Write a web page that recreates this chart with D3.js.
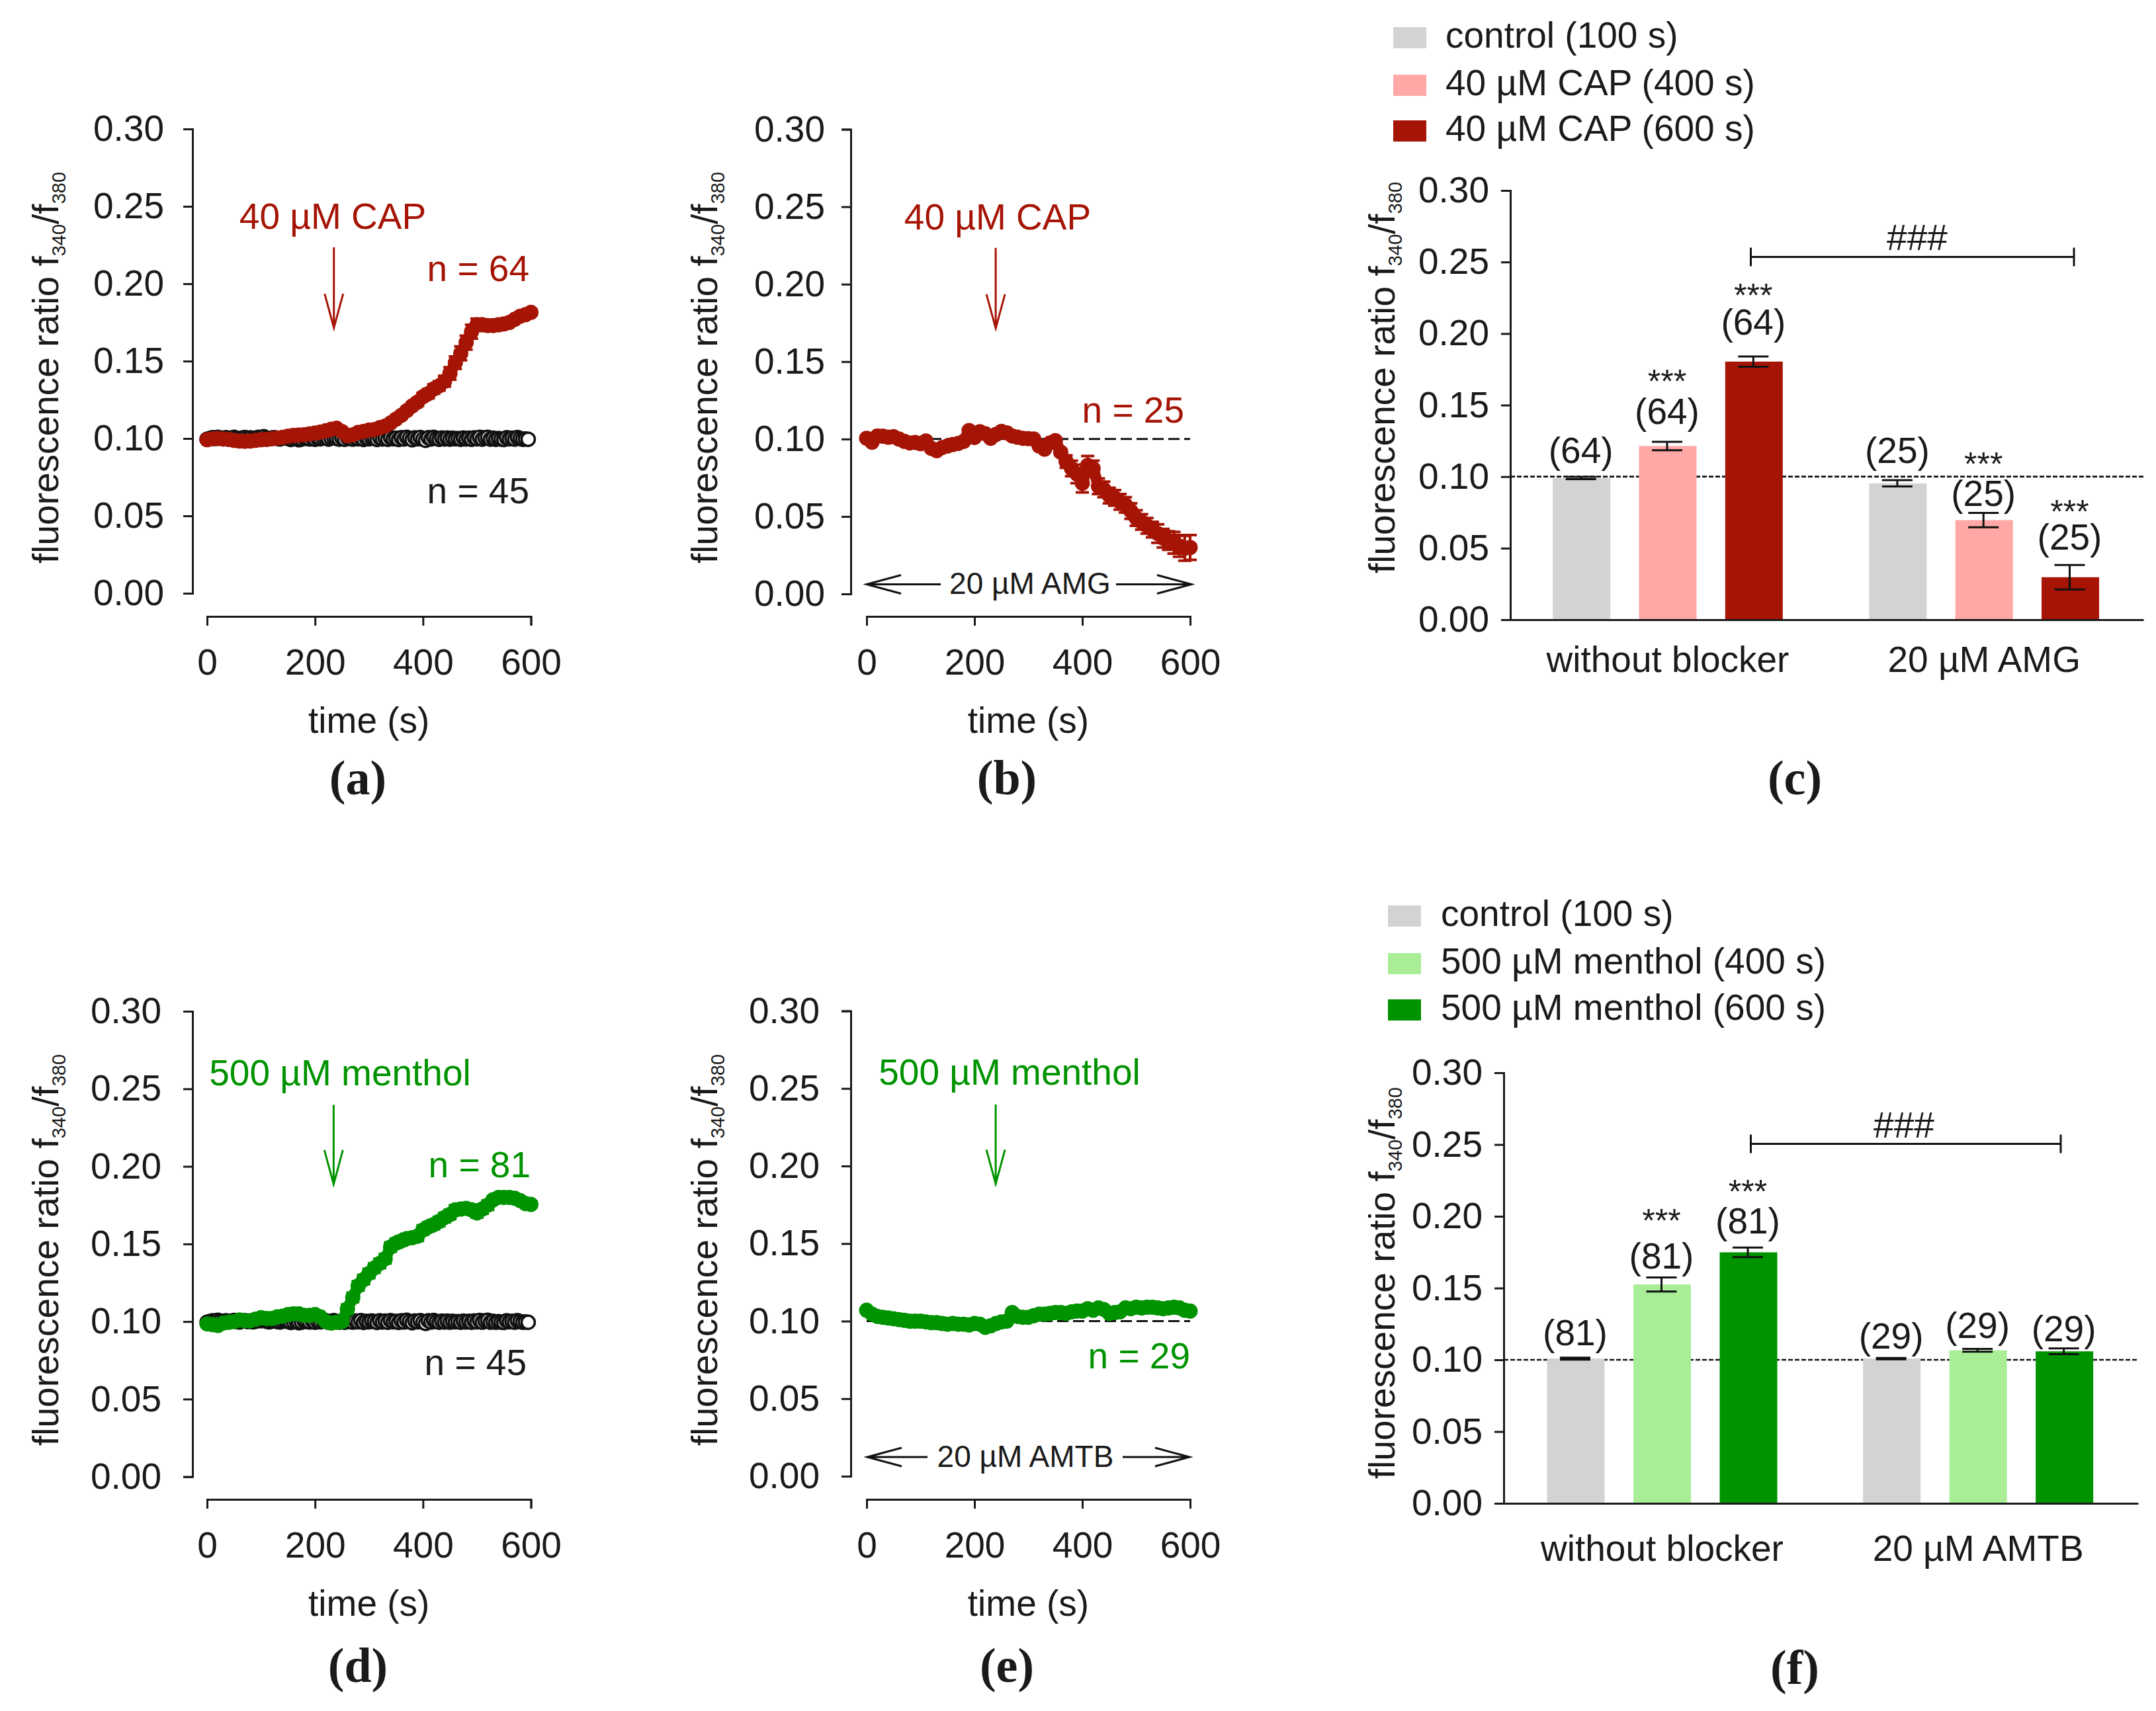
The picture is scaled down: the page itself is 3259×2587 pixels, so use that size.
<!DOCTYPE html>
<html><head><meta charset="utf-8">
<script src="https://cdn.jsdelivr.net/npm/d3@7/dist/d3.min.js"></script>
<style>html,body{margin:0;padding:0;background:#fff}svg{display:block}text{font-family:"Liberation Sans",Arial,sans-serif;fill:#1a1a1a}</style>
</head><body><svg id="c" width="3259" height="2587"></svg>
<script>
// ---------- data ----------
const yTicks = [0, 0.05, 0.10, 0.15, 0.20, 0.25, 0.30];
const xTicks = [0, 200, 400, 600];
const controlValues = [
.0995,.1,.1005,.1,.1008,.1003,.0998,.1005,.1,.1002,
.1007,.1,.0997,.1003,.1006,.1,.1004,.0998,.1002,.1007,
.1005,.1012,.1002,.0998,.1003,.1005,.1,.0997,.1002,.1006,
.1,.0994,.0998,.1003,.0992,.0996,.1004,.1,.0997,.1005,
.0995,.1002,.0998,.1003,.1005,.0996,.1002,.1006,.1,.0996,
.1003,.0995,.1006,.1,.0996,.1004,.0998,.1006,.0994,.1002,
.0998,.1004,.1,.0994,.1005,.0997,.1003,.0995,.1006,.0998,
.1002,.0994,.1005,.0997,.1008,.1,.0992,.1004,.0998,.1006,
.0995,.0988,.1005,.0997,.1007,.1,.0995,.1003,.0997,.1003,
.0996,.1002,.0998,.1,.0995,.1003,.0997,.1002,.0995,.1004,
.0998,.1007,.0996,.1005,.1008,.0996,.1002,.0995,.1,.0996,
.0994,.1005,.0998,.1002,.0996,.1006,.1,.0995,.0997,.0995];
const capValuesA = [.0992,.0998,.1,.0997,.0994,.0988,.0984,.0982,.0984,.0988,
.0992,.0994,.0998,.1003,.1008,.1015,.102,.1022,.1025,.103,
.1035,.1042,.105,.106,.1066,.1045,.1018,.1024,.104,.1046,
.1054,.1058,.107,.108,.11,.1125,.115,.118,.121,.1235,
.127,.129,.132,.134,.137,.142,.149,.155,.162,.169,
.1735,.1735,.173,.173,.1735,.174,.175,.177,.179,.18,.1815];
const capErrorsA = [.001,.001,.001,.001,.001,.001,.001,.001,.001,.001,
.001,.001,.001,.001,.001,.001,.001,.001,.001,.001,
.001,.001,.001,.001,.001,.001,.001,.001,.001,.001,
.001,.001,.001,.001,.0015,.0015,.002,.002,.002,.0025,
.0025,.003,.003,.003,.0035,.004,.004,.0045,.0045,.0045,
.004,.003,.002,.002,.002,.002,.002,.002,.002,.002,.002];
const capValuesB = [.1005,.098,.102,.1018,.1012,.1015,.1,.0985,.0975,.0978,
.097,.0988,.094,.0925,.0945,.0955,.0965,.0972,.0985,.1055,
.101,.1047,.1035,.1005,.103,.105,.104,.102,.1012,.1005,
.1003,.1,.0955,.0935,.0975,.099,.0915,.0855,.081,.0775,
.0715,.083,.081,.0695,.0675,.0635,.062,.0595,.0575,.0535,
.049,.0465,.044,.0415,.039,.036,.0345,.033,.031,.0295,.03];
const capErrorsB = [.001,.001,.001,.001,.001,.001,.001,.001,.001,.001,
.001,.001,.001,.001,.001,.001,.001,.001,.001,.001,
.001,.001,.001,.001,.001,.001,.001,.001,.001,.001,
.001,.001,.001,.001,.001,.001,.002,.004,.005,.006,
.006,.006,.005,.005,.005,.005,.005,.005,.005,.005,
.005,.005,.005,.005,.006,.006,.006,.007,.007,.008,.008];
const mentholValuesD = [.0985,.098,.0975,.099,.0995,.1,.101,.1005,.1005,.1015,
.1025,.102,.102,.103,.1035,.1045,.105,.105,.104,.104,
.1045,.103,.1,.099,.0995,.1,.108,.1155,.123,.127,
.131,.1345,.1375,.1405,.148,.1505,.152,.1535,.154,.155,
.159,.161,.1625,.1645,.167,.169,.172,.1725,.173,.172,
.17,.1725,.175,.1785,.18,.18,.18,.1795,.178,.176,.1755];
const mentholErrorsD = [.001,.001,.001,.001,.001,.001,.001,.001,.001,.001,
.001,.001,.001,.001,.001,.001,.001,.001,.001,.001,
.001,.001,.001,.001,.001,.002,.003,.003,.003,.003,
.003,.003,.003,.003,.003,.003,.003,.003,.003,.003,
.003,.003,.003,.003,.003,.003,.003,.003,.003,.003,
.003,.003,.003,.002,.002,.002,.002,.002,.002,.002,.002];
const mentholValuesE = [.107,.1045,.103,.1025,.102,.1015,.101,.1005,.1,.1,
.1,.0995,.099,.099,.0985,.098,.0985,.098,.098,.0975,
.0985,.098,.096,.097,.0985,.0995,.1,.1055,.103,.1025,
.1025,.1035,.1045,.1045,.105,.1055,.1055,.105,.106,.1065,
.1065,.108,.107,.1085,.1075,.105,.1055,.106,.1085,.108,
.109,.1085,.109,.109,.1085,.108,.1085,.109,.1085,.107,.1065];

const barGroupsC = ["without blocker", "20 µM AMG"];
const barGroupsF = ["without blocker", "20 µM AMTB"];
const legendC = ["control (100 s)", "40 µM CAP (400 s)", "40 µM CAP (600 s)"];
const legendF = ["control (100 s)", "500 µM menthol (400 s)", "500 µM menthol (600 s)"];
const barValuesC = [.099, .1214, .1804, .0953, .0696, .0297];
const barErrorsC = [.0008, .003, .0036, .0022, .005, .0085];
const barCountsC = ["(64)", "(64)", "(64)", "(25)", "(25)", "(25)"];
const countHeightsC = [.1094, .137, .199, .1094, .0797, .0489];
const starHeightsC = [null, .1585, .2185, null, .101, .0674];
const barValuesF = [.1008, .1525, .1749, .1008, .1066, .1059];
const barErrorsF = [.0007, .0049, .0033, .0005, .001, .002];
const barCountsF = ["(81)", "(81)", "(81)", "(29)", "(29)", "(29)"];
const countHeightsF = [.1102, .1637, .1879, .108, .1152, .1127];
const starHeightsF = [null, .1888, .2092, null, null, null];
const paletteCap = ["#D3D3D3", "#FFA8A5", "#A51405"];
const paletteMenthol = ["#D3D3D3", "#A9ED97", "#009300"];
const RED = "#A51405", GREEN = "#009300";

// ---------- helpers ----------
const svg = d3.select("#c");
const FS = 55;
const label = (s, x, y, o = {}) => svg.append("text").attr("x", x).attr("y", y).text(s)
  .attr("font-size", o.size || FS).attr("text-anchor", o.anchor || "middle")
  .style("fill", o.color || "#1a1a1a").style("font-family", o.family || null).style("font-weight", o.weight || null);

function yLabel(x, y) {
  const t = svg.append("text").attr("transform", `translate(${x},${y}) rotate(-90)`).attr("font-size", FS);
  t.append("tspan").text("fluorescence ratio f");
  t.append("tspan").text("340").attr("font-size", 29).attr("dy", 11);
  t.append("tspan").text("/f").attr("dy", -11);
  t.append("tspan").text("380").attr("font-size", 29).attr("dy", 11);
}
function styleAxis(g, size) {
  g.selectAll("path,line").attr("stroke", "#1a1a1a").attr("stroke-width", 3).attr("fill", "none");
  g.selectAll("text").attr("font-size", size || FS).style("font-family", '"Liberation Sans"').style("fill", "#1a1a1a");
}
function panelLetter(s, x, y) {
  label(s, x, y, { size: 74, family: '"Liberation Serif"', weight: "bold" });
}

function timePanel(p) {
  const x = d3.scaleLinear().domain([0, 600]).range([p.x0, p.x600]);
  const y = d3.scaleLinear().domain([0, 0.3]).range([p.y0, p.y30]);
  const gy = svg.append("g").attr("transform", `translate(${p.yAxisX},0)`)
    .call(d3.axisLeft(y).tickValues(yTicks).tickFormat(d3.format(".2f")).tickSize(14).tickPadding(p.yPad));
  styleAxis(gy);
  const gx = svg.append("g").attr("transform", `translate(0,${p.xAxisY})`)
    .call(d3.axisBottom(x).tickValues(xTicks).tickFormat(d3.format("d")).tickSize(14).tickPadding(35));
  styleAxis(gx);
  gx.selectAll("text").attr("dy", "0.71em");
  yLabel(p.yLabelX, p.yLabelY);
  label("time (s)", x(300), p.xAxisY + 176);
  panelLetter(p.letter, p.letterX, p.letterY);

  if (p.dashed) svg.append("line").attr("x1", x(0)).attr("x2", x(600)).attr("y1", y(.1)).attr("y2", y(.1))
    .attr("stroke", "#111").attr("stroke-width", 3).attr("stroke-dasharray", "17,7");

  if (p.control) svg.append("g").selectAll("circle").data(controlValues).join("circle")
    .attr("cx", (d, i) => x(i * 5)).attr("cy", d => y(d)).attr("r", 10)
    .attr("fill", "#fff").attr("stroke", "#111").attr("stroke-width", 3.5);

  const pts = p.values.map((v, i) => ({ t: i * 10, v, e: p.errors ? p.errors[i] : 0 }));
  const eb = svg.append("g").attr("stroke", p.color).attr("stroke-width", 4);
  eb.selectAll("path").data(pts).join("path").attr("fill", "none").attr("d", d =>
    `M${x(d.t) - 10},${y(d.v + d.e)}H${x(d.t) + 10}M${x(d.t)},${y(d.v + d.e)}V${y(d.v - d.e)}M${x(d.t) - 10},${y(d.v - d.e)}H${x(d.t) + 10}`);
  svg.append("path").datum(pts).attr("fill", "none").attr("stroke", p.color).attr("stroke-width", 17).attr("stroke-linejoin", "round")
    .attr("d", d3.line().x(d => x(d.t)).y(d => y(d.v)));
  svg.append("g").selectAll("circle").data(pts).join("circle")
    .attr("cx", d => x(d.t)).attr("cy", d => y(d.v)).attr("r", 11.5).attr("fill", p.color);

  // stimulus arrow
  const ax = x(p.arrowT);
  svg.append("path").attr("fill", "none").attr("stroke", p.color).attr("stroke-width", 3)
    .attr("d", `M${ax},${y(p.arrowTop)}V${y(p.arrowTip)}M${ax - 14},${y(p.arrowTip + .022)}L${ax},${y(p.arrowTip)}L${ax + 14},${y(p.arrowTip + .022)}`);
  label(p.stim, p.stimX, y(p.stimH), { color: p.color });
  p.notes.forEach(n => label(n.s, n.x, y(n.h), { anchor: "end", color: n.color }));

  // blocker span
  if (p.blocker) {
    const b = p.blocker, by = y(b.h);
    svg.append("path").attr("fill", "none").attr("stroke", "#111").attr("stroke-width", 3)
      .attr("d", `M${b.x1},${by}H${b.l2}M${b.x1 + 52},${by - 14}L${b.x1},${by}L${b.x1 + 52},${by + 14}` +
        `M${b.r1},${by}H${b.x2}M${b.x2 - 52},${by - 14}L${b.x2},${by}L${b.x2 - 52},${by + 14}`);
    label(b.s, b.tx, b.ty, { size: b.size || 47 });
  }
}

function barPanel(p) {
  const slots = [0, 1, 2, p.gap, p.gap + 1, p.gap + 2];
  const xs = d3.scaleLinear().domain([0, 1]).range([p.slot0, p.slot0 + p.step]);
  const y = d3.scaleLinear().domain([0, 0.3]).range([p.y0, p.y30]);
  const bw = 87;
  // legend
  p.legend.forEach((s, i) => {
    svg.append("rect").attr("x", p.legX).attr("y", p.legY[i] - 31).attr("width", 50).attr("height", 32).attr("fill", p.palette[i]);
    label(s, p.legTextX, p.legY[i], { anchor: "start" });
  });
  // dashed baseline (behind bars)
  svg.append("line").attr("x1", p.yAxisX).attr("x2", p.xEnd).attr("y1", y(.1)).attr("y2", y(.1))
    .attr("stroke", "#111").attr("stroke-width", 2.6).attr("stroke-dasharray", "7,3");
  const data = p.values.map((v, i) => ({ v, e: p.errors[i], c: p.counts[i], h: p.countH[i], s: p.starH[i], pos: slots[i], col: p.palette[i % 3] }));
  svg.append("g").selectAll("rect").data(data).join("rect")
    .attr("x", d => xs(d.pos) - bw / 2).attr("width", bw).attr("y", d => y(d.v)).attr("height", d => y(0) - y(d.v)).attr("fill", d => d.col);
  svg.append("g").selectAll("path").data(data).join("path").attr("fill", "none").attr("stroke", "#111").attr("stroke-width", 3)
    .attr("d", d => {
      const c = xs(d.pos) - 1;
      return `M${c - 23},${y(d.v + d.e)}H${c + 23}M${c},${y(d.v + d.e)}V${y(d.v - d.e)}M${c - 23},${y(d.v - d.e)}H${c + 23}`;
    });
  data.forEach(d => {
    label(d.c, xs(d.pos) - 1, y(d.h));
    if (d.s != null) label("***", xs(d.pos) - 1, y(d.s), { size: 50 });
  });
  const gy = svg.append("g").attr("transform", `translate(${p.yAxisX},0)`)
    .call(d3.axisLeft(y).tickValues(yTicks).tickFormat(d3.format(".2f")).tickSize(14).tickPadding(18));
  styleAxis(gy);
  const xAxis = d3.scaleLinear().domain([0, 1]).range([p.yAxisX, p.xEnd]);
  const gx = svg.append("g").attr("transform", `translate(0,${p.y0})`).call(d3.axisBottom(xAxis).tickValues([]).tickSizeOuter(0));
  styleAxis(gx);
  yLabel(p.yLabelX, p.yLabelY);
  p.groups.forEach((g, i) => label(g, xs(i === 0 ? 1 : p.gap + 1), p.groupY));
  // bracket
  const by = y(p.brH);
  svg.append("path").attr("fill", "none").attr("stroke", "#111").attr("stroke-width", 3)
    .attr("d", `M${p.br1},${by - 14}V${by + 14}M${p.br1},${by}H${p.br2}M${p.br2},${by - 14}V${by + 14}`);
  label("###", p.brText, y(p.brTextH), { size: 55 });
  panelLetter(p.letter, p.letterX, p.letterY);
}

// ---------- panels ----------
timePanel({ x0: 313, x600: 802.5, y0: 897, y30: 195, xAxisY: 932, yAxisX: 291, yPad: 29, yLabelX: 88, yLabelY: 852,
  letter: "(a)", letterX: 541, letterY: 1201, control: true, values: capValuesA, errors: capErrorsA, color: RED,
  arrowT: 235, arrowTop: .2235, arrowTip: .1715, stim: "40 µM CAP", stimX: 503, stimH: .2353,
  notes: [{ s: "n = 64", x: 800, h: .2015, color: RED }, { s: "n = 45", x: 800, h: .058, color: "#1a1a1a" }] });

timePanel({ x0: 1310, x600: 1799, y0: 898, y30: 195.5, xAxisY: 932, yAxisX: 1286, yPad: 25, yLabelX: 1084, yLabelY: 852,
  letter: "(b)", letterX: 1522, letterY: 1201, dashed: true, values: capValuesB, errors: capErrorsB, color: RED,
  arrowT: 239.4, arrowTop: .2235, arrowTip: .1715, stim: "40 µM CAP", stimX: 1508, stimH: .2353,
  notes: [{ s: "n = 25", x: 1790, h: .1106, color: RED }],
  blocker: { s: "20 µM AMG", h: .0062, x1: 1310, l2: 1422, r1: 1687, x2: 1801, tx: 1557, ty: 898, size: 46 } });

timePanel({ x0: 313, x600: 802.5, y0: 2232.7, y30: 1529, xAxisY: 2267, yAxisX: 291, yPad: 33, yLabelX: 88, yLabelY: 2186,
  letter: "(d)", letterX: 541, letterY: 2543, control: true, values: mentholValuesD, errors: mentholErrorsD, color: GREEN,
  arrowT: 234.5, arrowTop: .2397, arrowTip: .1885, stim: "500 µM menthol", stimX: 514, stimH: .2524,
  notes: [{ s: "n = 81", x: 802, h: .193, color: GREEN }, { s: "n = 45", x: 796, h: .0656, color: "#1a1a1a" }] });

timePanel({ x0: 1310, x600: 1799, y0: 2232, y30: 1528.5, xAxisY: 2267, yAxisX: 1286, yPad: 33, yLabelX: 1084, yLabelY: 2186,
  letter: "(e)", letterX: 1522, letterY: 2543, dashed: true, values: mentholValuesE, errors: null, color: GREEN,
  arrowT: 239.4, arrowTop: .2397, arrowTip: .1885, stim: "500 µM menthol", stimX: 1526, stimH: .2524,
  notes: [{ s: "n = 29", x: 1799, h: .0697, color: GREEN }],
  blocker: { s: "20 µM AMTB", h: .01235, x1: 1311, l2: 1402, r1: 1697, x2: 1798, tx: 1550, ty: 2218, size: 46 } });

barPanel({ slot0: 2390.7, step: 130.3, gap: 3.67, y0: 937, y30: 288, yAxisX: 2283, xEnd: 3240, yLabelX: 2108, yLabelY: 867,
  values: barValuesC, errors: barErrorsC, counts: barCountsC, countH: countHeightsC, starH: starHeightsC, palette: paletteCap,
  legend: legendC, legX: 2106, legTextX: 2185, legY: [72, 144, 213], groups: barGroupsC, groupY: 1016,
  brH: .2536, br1: 2646.5, br2: 3135, brText: 2898, brTextH: .2585, letter: "(c)", letterX: 2713, letterY: 1201 });

barPanel({ slot0: 2382, step: 130.5, gap: 3.66, y0: 2273, y30: 1622, yAxisX: 2273, xEnd: 3232, yLabelX: 2108, yLabelY: 2236,
  values: barValuesF, errors: barErrorsF, counts: barCountsF, countH: countHeightsF, starH: starHeightsF, palette: paletteMenthol,
  legend: legendF, legX: 2098, legTextX: 2178, legY: [1400, 1472, 1542], groups: barGroupsF, groupY: 2360,
  brH: .2505, br1: 2646.5, br2: 3115, brText: 2878, brTextH: .2548, letter: "(f)", letterX: 2713, letterY: 2546 });
</script></body></html>
